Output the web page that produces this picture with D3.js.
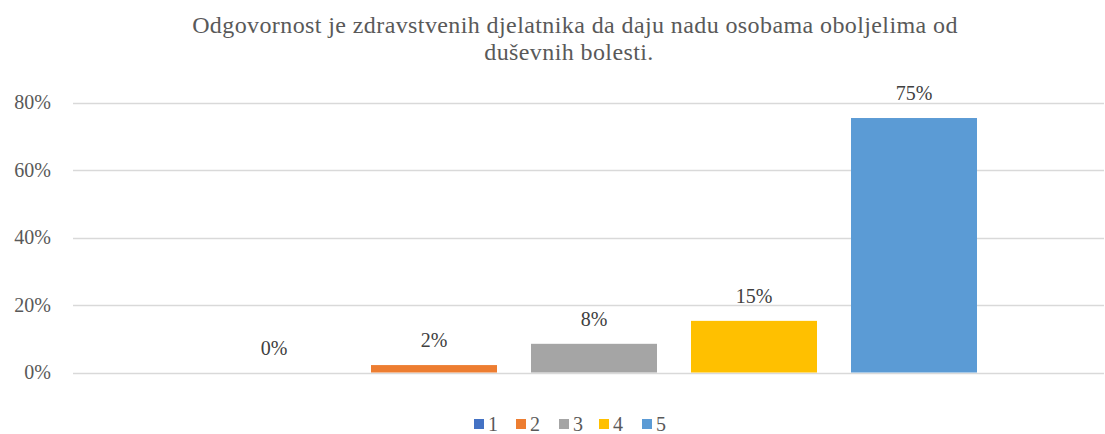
<!DOCTYPE html>
<html>
<head>
<meta charset="utf-8">
<script src="https://cdn.jsdelivr.net/npm/d3@7"></script>
<style>
    body { margin: 0; background: #fff; }
    svg text { font-family: "Liberation Serif", "DejaVu Serif", "Noto Serif", serif; }
</style>
</head>
<body>
<svg id="chart"></svg>
<script>
// chart data
var series = ["1", "2", "3", "4", "5"];
var values = [0, 2.2, 8.5, 15.3, 75.4];
var labels = ["0%", "2%", "8%", "15%", "75%"];
var colors = ["#4472C4", "#ED7D31", "#A5A5A5", "#FFC000", "#5B9BD5"];
var yTicks = [0, 20, 40, 60, 80];
var titleLines = ["Odgovornost je zdravstvenih djelatnika da daju nadu osobama oboljelima od",
    "duševnih bolesti."];

var width = 1105, height = 434;
var plot = { left: 73, right: 1104, top: 102.5, bottom: 372.5 };

var svg = d3.select("#chart")
    .attr("width", width)
    .attr("height", height);

// y scale, 0..80%
var y = d3.scaleLinear().domain([0, 80]).range([plot.bottom, plot.top]);

// one category, five series side by side
var x = d3.scaleBand()
    .domain(series)
    .range([211, 977])
    .paddingInner(0.2125);

// gridlines
svg.append("g")
    .selectAll("line")
    .data(yTicks)
    .join("line")
    .attr("x1", plot.left)
    .attr("x2", plot.right)
    .attr("y1", function (d) { return Math.round(y(d)) + 0.5; })
    .attr("y2", function (d) { return Math.round(y(d)) + 0.5; })
    .attr("stroke", "#d9d9d9")
    .attr("stroke-width", 1.3);

// y axis labels
var yAxis = svg.append("g")
    .attr("transform", "translate(" + (plot.left - 22) + ",0)")
    .call(d3.axisLeft(y).tickValues(yTicks).tickSize(0).tickPadding(0)
        .tickFormat(function (d) { return d + "%"; }));
yAxis.select(".domain").remove();
yAxis.attr("font-family", null);
yAxis.selectAll("text")
    .attr("font-size", "20px")
    .attr("fill", "#595959");

// bars
svg.append("g")
    .selectAll("rect")
    .data(values)
    .join("rect")
    .attr("x", function (d, i) { return x(series[i]); })
    .attr("width", x.bandwidth())
    .attr("y", function (d) { return y(d); })
    .attr("height", function (d) { return y(0) - y(d); })
    .attr("fill", function (d, i) { return colors[i]; });

// value labels
svg.append("g")
    .selectAll("text")
    .data(values)
    .join("text")
    .attr("x", function (d, i) { return x(series[i]) + x.bandwidth() / 2; })
    .attr("y", function (d) { return y(d) - 18; })
    .attr("text-anchor", "middle")
    .attr("font-size", "20px")
    .attr("fill", "#404040")
    .text(function (d, i) { return labels[i]; });

// title
svg.append("g")
    .selectAll("text")
    .data(titleLines)
    .join("text")
    .attr("x", function (d, i) { return i ? 569 : 575; })
    .attr("y", function (d, i) { return 33 + i * 27; })
    .attr("text-anchor", "middle")
    .attr("font-size", "24px")
    .attr("letter-spacing", "0.4px")
    .attr("fill", "#595959")
    .text(function (d) { return d; });

// legend
var legendX = [474, 516, 559, 599, 642];
var legend = svg.append("g")
    .selectAll("g")
    .data(series)
    .join("g")
    .attr("transform", function (d, i) { return "translate(" + legendX[i] + ",419)"; });

legend.append("rect")
    .attr("width", 10)
    .attr("height", 10)
    .attr("fill", function (d, i) { return colors[i]; });

legend.append("text")
    .attr("x", 14)
    .attr("y", 12)
    .attr("font-size", "20px")
    .attr("fill", "#595959")
    .text(function (d) { return d; });
</script>
</body>
</html>
